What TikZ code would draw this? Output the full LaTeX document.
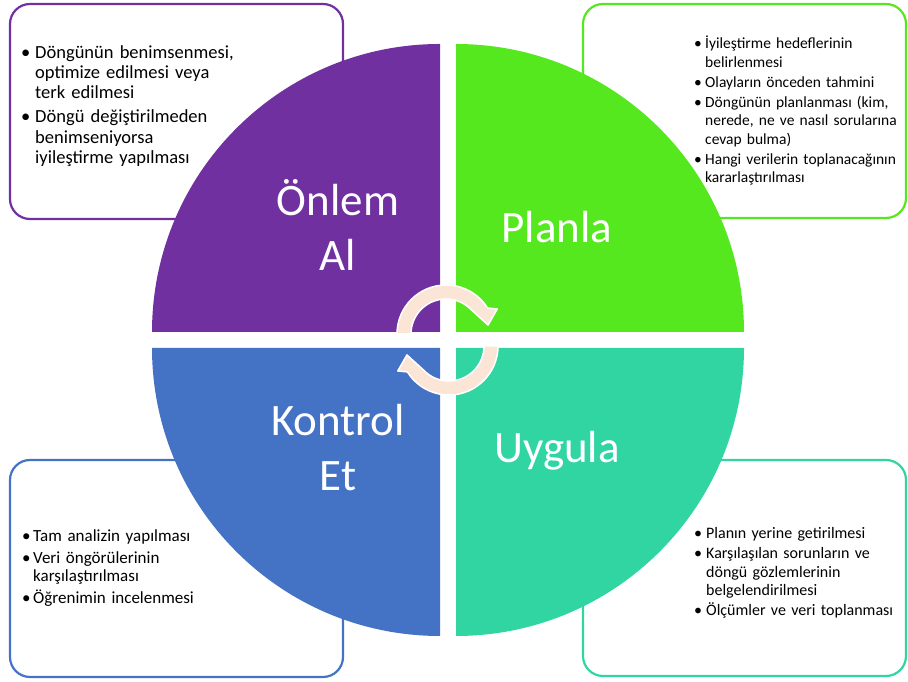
\documentclass[tikz,border=0pt]{standalone}
\usepackage{fontspec}
\setmainfont{Carlito}
\usepackage{enumitem}
\setlist[itemize]{label=\textbullet, topsep=0pt, partopsep=0pt, parsep=0pt, labelsep=0pt, align=left}
\definecolor{mor}{HTML}{7030A0}
\definecolor{yesil}{HTML}{56E81E}
\definecolor{mavi}{HTML}{4472C4}
\definecolor{turkuaz}{HTML}{30D5A2}
\definecolor{seftali}{HTML}{FBE5D6}

\begin{document}
\begin{tikzpicture}[x=1pt,y=1pt,
  kutu/.style={line width=2.2pt, rounded corners=20pt},
  baslik/.style={text=white, font=\fontsize{45}{55}\selectfont, align=center, inner sep=0pt},
  notlar/.style={anchor=north west, inner sep=0pt, text width=#1, align=left},
  ok/.style={fill=seftali, draw=white, line width=1.5pt, line join=round}]
\useasboundingbox (0,0) rectangle (908,682);

% kutular
\draw[kutu, mor] (10,463) rectangle (343,678);
\draw[kutu, yesil] (583,464) rectangle (906,678);
\draw[kutu, mavi] (10,5) rectangle (343,222);
\draw[kutu, turkuaz] (583,6) rectangle (906,222);

% dilimler
\fill[mor] (440,350) -- (152,350) arc[start angle=180, end angle=90, radius=288] -- cycle;
\fill[yesil] (456,350) -- (456,638) arc[start angle=90, end angle=0, radius=288] -- cycle;
\fill[mavi] (440,334) -- (440,46) arc[start angle=270, end angle=180, radius=288] -- cycle;
\fill[turkuaz] (456,334) -- (744,334) arc[start angle=0, end angle=-90, radius=288] -- cycle;

\node[baslik] (onlem) at (338,457) {Önlem\\Al};
\node[baslik, anchor=base] (planla) at (557,439) {Planla};
\node[baslik] (kontrol) at (338,234) {Kontrol\\Et};
\node[baslik, anchor=base] (uygula) at (557,219) {Uygula};

% oklar
\begin{scope}[shift={(446,348)}]
\path[ok] (180:49) arc[start angle=180, end angle=32, radius=49] -- (26:57) -- (12:43)
  -- (44:35) arc[start angle=44, end angle=180, radius=35] -- cycle;
\end{scope}
\begin{scope}[shift={(449,336)}, rotate=180]
\path[ok] (180:49) arc[start angle=180, end angle=32, radius=49] -- (26:57) -- (12:43)
  -- (44:35) arc[start angle=44, end angle=180, radius=35] -- cycle;
\end{scope}

% notlar
\node[notlar=300pt, font=\fontsize{18.5}{20.2}\selectfont] (onlemnot) at (21,644) {%
\begin{itemize}[leftmargin=14pt, labelwidth=14pt, itemsep=4pt]
\item Döngünün benimsenmesi,\\optimize edilmesi veya\\terk edilmesi
\item Döngü değiştirilmeden\\benimseniyorsa\\iyileştirme yapılması
\end{itemize}};
\node[notlar=230pt, font=\fontsize{15.5}{18.6}\selectfont] (planlanot) at (694,652) {%
\begin{itemize}[leftmargin=11pt, labelwidth=11pt, itemsep=1.3pt]
\item İyileştirme hedeflerinin\\belirlenmesi
\item Olayların önceden tahmini
\item Döngünün planlanması (kim,\\nerede, ne ve nasıl sorularına\\cevap bulma)
\item Hangi verilerin toplanacağının\\kararlaştırılması
\end{itemize}};
\node[notlar=300pt, font=\fontsize{17}{18.3}\selectfont] (kontrolnot) at (22,159) {%
\begin{itemize}[leftmargin=11pt, labelwidth=11pt, itemsep=3.7pt]
\item Tam analizin yapılması
\item Veri öngörülerinin\\karşılaştırılması
\item Öğrenimin incelenmesi
\end{itemize}};
\node[notlar=230pt, font=\fontsize{16}{18.5}\selectfont] (uygulanot) at (694,162) {%
\begin{itemize}[leftmargin=12pt, labelwidth=12pt, itemsep=1.5pt]
\item Planın yerine getirilmesi
\item Karşılaşılan sorunların ve\\döngü gözlemlerinin\\belgelendirilmesi
\item Ölçümler ve veri toplanması
\end{itemize}};
\end{tikzpicture}
\end{document}
